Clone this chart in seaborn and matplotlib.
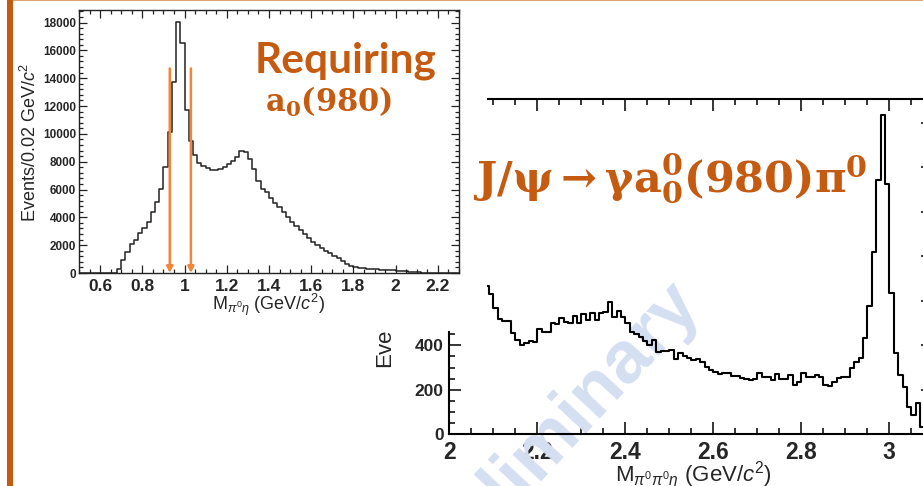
import numpy as np
import pandas as pd
import matplotlib
matplotlib.use("Agg")
import matplotlib.pyplot as plt
from matplotlib.patches import Rectangle
from matplotlib.ticker import MultipleLocator
from matplotlib.transforms import Bbox, TransformedBbox
import seaborn as sns

# ---------------- data ----------------
# M(pi0 eta) spectrum, 0.02 GeV bins from 0.50 to 2.30
eta_pi_lo, eta_pi_hi, eta_pi_width = 0.50, 2.30, 0.02
eta_pi_counts = [
    0, 0, 0, 0, 0, 0, 0, 0, 0,
    260, 935, 1530, 2060, 2370, 2900, 3210, 3690, 4410, 5130,
    6040, 7600, 10160, 13690, 18025, 16560, 11720, 9490, 8490, 7930,
    7690, 7530, 7410, 7410, 7500, 7650, 7840, 8080, 8370, 8770,
    8720, 8200, 7500, 6620, 6050, 5800, 5400, 5050, 4750, 4400,
    4050, 3700, 3400, 3080, 2780, 2500, 2250, 2020, 1800, 1600,
    1420, 1230, 1050, 860, 680, 520, 420, 370, 340, 310,
    290, 270, 250, 230, 210, 190, 170, 140, 110, 85,
    60, 40, 20, 8,
    0, 0, 0, 0, 0, 0, 0,
]
# a0(980) mass window
window_cuts = [0.93, 1.03]

# M(pi0 pi0 eta) spectrum, 0.01 GeV bins from 2.08 to 3.08
three_body_lo, three_body_hi, three_body_width = 2.08, 3.08, 0.01
three_body_counts = [
    666, 631, 568, 519, 508, 511, 454, 424, 401, 409,
    420, 416, 474, 461, 458, 499, 497, 524, 506, 499,
    532, 499, 542, 514, 547, 514, 545, 548, 596, 529,
    556, 529, 500, 460, 452, 436, 420, 400, 424, 371,
    372, 376, 379, 338, 364, 352, 344, 334, 337, 326,
    301, 289, 281, 271, 277, 277, 262, 262, 251, 247,
    244, 248, 277, 259, 256, 244, 271, 247, 247, 266,
    221, 236, 274, 259, 256, 266, 259, 221, 218, 236,
    251, 256, 256, 296, 323, 341, 431, 578, 818, 1143,
    1435, 1123, 633, 364, 266, 211, 124, 87, 139, 34,
]

left_xticks = [0.6, 0.8, 1.0, 1.2, 1.4, 1.6, 1.8, 2.0, 2.2]
left_xticklabels = ["0.6", "0.8", "1", "1.2", "1.4", "1.6", "1.8", "2", "2.2"]
left_yticks = list(range(0, 18001, 2000))
right_xticks = [2.0, 2.2, 2.4, 2.6, 2.8, 3.0]
right_xticklabels = ["2", "2.2", "2.4", "2.6", "2.8", "3"]
right_yticks = [0, 200, 400, 600, 800, 1000, 1200, 1400]

ORANGE = "#C55A11"
ARROW = "#F28538"

# ---------------- style ----------------
sns.set_theme(style="ticks")
plt.rcParams["font.family"] = ["Liberation Sans", "DejaVu Sans"]
plt.rcParams["mathtext.fontset"] = "custom"
plt.rcParams["mathtext.rm"] = "Liberation Sans"
plt.rcParams["mathtext.it"] = "Liberation Sans:italic"
plt.rcParams["mathtext.bf"] = "Liberation Sans:bold"

W, H = 923, 486
fig = plt.figure(figsize=(W / 100, H / 100), dpi=100)
fig.patch.set_facecolor("white")


def fx(px):
    return px / W


def fy(py):
    return 1 - py / H


def centers(lo, width, n):
    return lo + width * (np.arange(n) + 0.5)


# ---------------- right (three-body) panel ----------------
x0, x1, ytop, ybot = 449.3, 933.3, 99.3, 434.3
axR = fig.add_axes([fx(x0), fy(ybot), (x1 - x0) / W, (ybot - ytop) / H])
axR.set_zorder(0)
dfR = pd.DataFrame({"m": centers(three_body_lo, three_body_width,
                                 len(three_body_counts)),
                    "n": three_body_counts})
sns.histplot(data=dfR, x="m", weights="n", binwidth=three_body_width,
             binrange=(three_body_lo, three_body_hi),
             element="step", fill=False, color="black", linewidth=1.5,
             ax=axR)
axR.set_xlim(2.0, 3.1)
axR.set_ylim(0, 1505)
axR.set_xlabel("")
axR.set_ylabel("")
for s in axR.spines.values():
    s.set_visible(True)
    s.set_linewidth(1.5)
    s.set_color("black")
axR.set_xticks(right_xticks, right_xticklabels)
axR.set_yticks(right_yticks)
axR.xaxis.set_minor_locator(MultipleLocator(0.05))
axR.yaxis.set_minor_locator(MultipleLocator(50))
axR.tick_params(which="both", direction="in", top=True, right=True,
                width=1.1, color="black")
axR.tick_params(which="major", length=8.6)
axR.tick_params(which="minor", length=4.3)
axR.tick_params(axis="x", labelsize=16.5, pad=4.5)
axR.tick_params(axis="y", labelsize=12.5, pad=4)
for lab in axR.get_xticklabels() + axR.get_yticklabels():
    lab.set_fontweight("bold")

axR.text(fx(615), fy(481), r"M$_{\pi^0\pi^0\eta}$ (GeV/$c^2$)",
         transform=fig.transFigure, fontsize=16, ha="left", va="baseline",
         clip_on=False)

# only the lower part of the y title shows below the inset panel
visible_lower = TransformedBbox(Bbox([[0, 0], [1, fy(331)]]), fig.transFigure)
ylab = axR.text(fx(385), fy(369), r"Events/0.01 GeV/$c^2$",
                transform=fig.transFigure, fontsize=16, rotation=90,
                ha="center", va="bottom")
ylab.set_clip_box(visible_lower)
ylab.set_clip_on(True)

# watermark sits above the tick labels but under the histogram line
axR.text(fx(662), fy(268), "Preliminary", transform=fig.transFigure,
         fontsize=53, fontweight="bold", color="#D4DFF2", rotation=47,
         rotation_mode="anchor", ha="right", va="top", zorder=1,
         family=["Liberation Sans", "DejaVu Sans"], clip_on=False)

# white panel behind the inset spectrum
fig.add_artist(Rectangle((0, fy(331)), fx(486.7), 331 / H,
                         transform=fig.transFigure, facecolor="white",
                         edgecolor="none", zorder=1))

# ---------------- left (pi0 eta) panel ----------------
lx0, lx1, lytop, lybot = 79, 459, 10, 273
axL = fig.add_axes([fx(lx0), fy(lybot), (lx1 - lx0) / W, (lybot - lytop) / H])
axL.set_zorder(2)
dfL = pd.DataFrame({"m": centers(eta_pi_lo, eta_pi_width, len(eta_pi_counts)),
                    "n": eta_pi_counts})
sns.histplot(data=dfL, x="m", weights="n", binwidth=eta_pi_width,
             binrange=(eta_pi_lo, eta_pi_hi),
             element="step", fill=False, color="#222222", linewidth=1.1,
             ax=axL)
axL.set_xlim(0.5, 2.3)
axL.set_ylim(0, 18900)
axL.set_xlabel("")
axL.set_ylabel("")
for s in axL.spines.values():
    s.set_visible(True)
    s.set_linewidth(1.0)
    s.set_color("#222222")
axL.set_xticks(left_xticks, left_xticklabels)
axL.set_yticks(left_yticks)
axL.xaxis.set_minor_locator(MultipleLocator(0.05))
axL.yaxis.set_minor_locator(MultipleLocator(400))
axL.tick_params(which="both", direction="in", top=True, right=True,
                width=0.9, color="#222222")
axL.tick_params(which="major", length=5.8)
axL.tick_params(which="minor", length=2.9)
axL.tick_params(axis="x", labelsize=12.5, pad=4)
axL.tick_params(axis="y", labelsize=8.5, pad=2)
for lab in axL.get_xticklabels() + axL.get_yticklabels():
    lab.set_fontweight("bold")

for xc in window_cuts:
    axL.annotate("", xy=(xc, 0), xytext=(xc, 14700),
                 arrowprops=dict(arrowstyle="-|>", color=ARROW, lw=1.8,
                                 mutation_scale=9, shrinkA=0, shrinkB=0))

fig.text(fx(30), fy(142), r"Events/0.02 GeV/$c^2$", fontsize=13,
         rotation=90, ha="center", va="center", zorder=3)
fig.text(fx(269), fy(310), r"M$_{\pi^0\eta}$ (GeV/$c^2$)", fontsize=13,
         ha="center", va="baseline", zorder=3)

# ---------------- annotations ----------------
fig.text(fx(255), fy(73), "Requiring", fontsize=30.5, fontweight="bold",
         color=ORANGE, family=["Lato", "DejaVu Sans"], ha="left",
         va="baseline", zorder=3)
fig.text(fx(265), fy(112), r"$\mathbf{a_0(980)}$", fontsize=22,
         color=ORANGE, math_fontfamily="dejavuserif", ha="left",
         va="baseline", zorder=3)
fig.text(fx(473), fy(193), r"$\mathbf{J/\psi \rightarrow \gamma a^0_0(980)\pi^0}$",
         fontsize=31, color=ORANGE, math_fontfamily="dejavuserif",
         ha="left", va="baseline", zorder=3)

# slide frame: left accent bar and thin top rule
fig.add_artist(Rectangle((fx(7.5), 0), 6 / W, 1, transform=fig.transFigure,
                         facecolor=ORANGE, edgecolor="none", zorder=4))
fig.add_artist(Rectangle((fx(13), fy(1.5)), 1 - fx(13), 1.5 / H,
                         transform=fig.transFigure, facecolor="#E2A377",
                         edgecolor="none", zorder=4))

fig.savefig("out.png", dpi=100)
